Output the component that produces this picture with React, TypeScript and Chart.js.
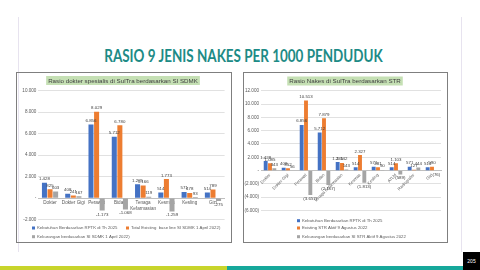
import React, { useEffect, useRef } from 'react';
import { Chart, registerables } from 'chart.js';

Chart.register(...registerables);

// ---------- DATA ----------
const leftTitle = 'Rasio dokter spesialis di SulTra berdasarkan SI SDMK';
const leftCategories: (string | string[])[] = ['Dokter', 'Dokter Gigi', 'Perawat', 'Bidan', ['Tenaga', 'Kefarmasian'], 'Kesmas', 'Kesling', 'Gizi'];
const leftSeriesNames = [
  'Kebutuhan Berdasarkan RPTK di Th 2025',
  'Total Existing  base line SI SDMK 1 April 2022)',
  'Kekurangan berdasarkan SI SDMK 1 April 2022)',
];
const leftKebutuhan = [1428, 408, 6856, 5712, 1285, 514, 571, 514];
const leftExisting = [825, 241, 8029, 6780, 1166, 1773, 478, 789];
const leftKekurangan = [603, 167, -1173, -1068, 119, -1259, 93, -275];
const leftAxisMin = -2000;
const leftAxisMax = 10000;
const leftAxisStep = 2000;

const rightTitle = 'Rasio Nakes di SulTra berdasarkan STR';
const rightCategories = ['Dokter', 'Dokter Gigi', 'Perawat', 'Bidan', 'Tenaga Kefarmasian', 'Kesmas', 'Kesling', 'ATLM', 'Radiografer', 'Gizi'];
const rightSeriesNames = [
  'Kebutuhan Berdasarkan RPTK di Th 2025',
  'Existing STR Aktif 9 Agustus 2022',
  'Kekurangan berdasarkan SI STR Aktif 9 Agustus 2022',
];
const rightKebutuhan = [1428, 408, 6856, 5712, 1285, 514, 571, 514, 571, 514];
const rightExisting = [1085, 352, 10513, 7879, 1142, 2327, 481, 1103, 127, 590];
const rightKekurangan = [343, 56, -3657, -2167, 143, -1813, 90, -589, 444, -76];
const rightAxisMin = -6000;
const rightAxisMax = 12000;
const rightAxisStep = 2000;

// ---------- STYLE ----------
const COLORS = ['#4472c4', '#ed7d31', '#a5a5a5'];
const FONT = '"Liberation Sans", Arial, sans-serif';
const TEXT = '#595959';

const thousands = (v: number) => Math.abs(v).toString().replace(/\B(?=(\d{3})+(?!\d))/g, '.');
const fmtMinus = (v: number) => (v < 0 ? '-' + thousands(v) : thousands(v));
const fmtParen = (v: number) => (v < 0 ? '(' + thousands(v) + ')' : thousands(v));

function valueLabelsPlugin(fmt: (v: number) => string, size: number) {
  return {
    id: 'valueLabels',
    afterDatasetsDraw(chart: any) {
      const ctx = chart.ctx;
      ctx.save();
      ctx.font = `${size}px ${FONT}`;
      ctx.fillStyle = '#404040';
      ctx.textAlign = 'center';
      chart.data.datasets.forEach((ds: any, i: number) => {
        const meta = chart.getDatasetMeta(i);
        meta.data.forEach((el: any, j: number) => {
          const v = ds.data[j] as number;
          const { x, y } = el.getProps(['x', 'y'], true);
          if (v >= 0) {
            ctx.textBaseline = 'bottom';
            ctx.fillText(fmt(v), x, y - 1.5);
          } else {
            ctx.textBaseline = 'top';
            ctx.fillText(fmt(v), x, y + 1.5);
          }
        });
      });
      ctx.restore();
    },
  };
}

interface DecorCfg {
  title: string;
  titleX: number;
  titleY: number;
  titleSize: number;
  legend: { x: number; y: number }[];
  legendSize: number;
}

function decorPlugin(cfg: DecorCfg) {
  return {
    id: 'decor',
    afterDraw(chart: any) {
      const ctx = chart.ctx;
      ctx.save();
      ctx.font = `${cfg.titleSize}px ${FONT}`;
      const w = ctx.measureText(cfg.title).width;
      ctx.fillStyle = '#c5e0b4';
      ctx.fillRect(cfg.titleX - w / 2 - 2, cfg.titleY - 4.5, w + 4, 9);
      ctx.fillStyle = '#404040';
      ctx.textAlign = 'center';
      ctx.textBaseline = 'middle';
      ctx.fillText(cfg.title, cfg.titleX, cfg.titleY + 0.3);
      ctx.font = `${cfg.legendSize}px ${FONT}`;
      ctx.textAlign = 'left';
      cfg.legend.forEach((p, i) => {
        const ds = chart.data.datasets[i];
        ctx.fillStyle = ds.backgroundColor;
        ctx.fillRect(p.x, p.y - 1.5, 3, 3);
        ctx.fillStyle = TEXT;
        ctx.fillText(ds.label, p.x + 5, p.y + 0.2);
      });
      ctx.restore();
    },
  };
}

function makeConfig(opts: {
  categories: any[];
  names: string[];
  series: number[][];
  min: number;
  max: number;
  step: number;
  tickFmt: (v: number) => string;
  labelFmt: (v: number) => string;
  padding: { top: number; right: number; bottom: number; left: number };
  yWidth: number;
  rotation: number;
  xFont: number;
  decor: DecorCfg;
}) {
  return {
    type: 'bar' as const,
    data: {
      labels: opts.categories,
      datasets: opts.series.map((d, i) => ({
        label: opts.names[i],
        data: d,
        backgroundColor: COLORS[i],
        borderWidth: 0,
        categoryPercentage: 0.72,
        barPercentage: 0.9,
      })),
    },
    options: {
      responsive: false,
      animation: false as const,
      layout: { padding: opts.padding },
      plugins: { legend: { display: false }, tooltip: { enabled: false }, title: { display: false } },
      scales: {
        x: {
          position: { y: 0 },
          grid: { display: false, drawTicks: false },
          border: { display: true, color: '#bfbfbf', width: 1 },
          ticks: {
            font: { size: opts.xFont, family: FONT },
            color: TEXT,
            padding: 2,
            autoSkip: false,
            minRotation: opts.rotation,
            maxRotation: opts.rotation,
          },
        },
        y: {
          min: opts.min,
          max: opts.max,
          afterFit: (axis: any) => {
            axis.width = opts.yWidth;
          },
          ticks: {
            stepSize: opts.step,
            callback: (v: any) => opts.tickFmt(Number(v)),
            font: { size: 4.6, family: FONT },
            color: TEXT,
            padding: 2,
          },
          grid: { color: '#d9d9d9', lineWidth: 0.8, drawTicks: false },
          border: { display: false },
        },
      },
    },
    plugins: [valueLabelsPlugin(opts.labelFmt, 4.4), decorPlugin(opts.decor)],
  };
}

function ChartCanvas({ config, left, top, width, height }: any) {
  const ref = useRef<HTMLCanvasElement>(null);
  useEffect(() => {
    const chart = new Chart(ref.current as HTMLCanvasElement, config());
    return () => chart.destroy();
  }, []);
  return (
    <canvas
      ref={ref}
      width={width}
      height={height}
      style={{ position: 'absolute', left, top, width, height }}
    />
  );
}

const leftConfig = () =>
  makeConfig({
    categories: leftCategories,
    names: leftSeriesNames,
    series: [leftKebutuhan, leftExisting, leftKekurangan],
    min: leftAxisMin,
    max: leftAxisMax,
    step: leftAxisStep,
    tickFmt: (v) => (v === 0 ? '-' : fmtMinus(v)),
    labelFmt: fmtMinus,
    padding: { top: 17.7, right: 6.4, bottom: 22.5, left: 0 },
    yWidth: 21.4,
    rotation: 0,
    xFont: 4.6,
    decor: {
      title: leftTitle,
      titleX: 106,
      titleY: 7.5,
      titleSize: 6.2,
      legend: [
        { x: 15, y: 155 },
        { x: 109, y: 155 },
        { x: 15, y: 163.7 },
      ],
      legendSize: 4.3,
    },
  });

const rightConfig = () =>
  makeConfig({
    categories: rightCategories,
    names: rightSeriesNames,
    series: [rightKebutuhan, rightExisting, rightKekurangan],
    min: rightAxisMin,
    max: rightAxisMax,
    step: rightAxisStep,
    tickFmt: (v) => (v === 0 ? '-' : fmtParen(v)),
    labelFmt: fmtParen,
    padding: { top: 17.7, right: 6, bottom: 31.5, left: 0 },
    yWidth: 17,
    rotation: 45,
    xFont: 4.2,
    decor: {
      title: rightTitle,
      titleX: 101,
      titleY: 8,
      titleSize: 6.2,
      legend: [
        { x: 53, y: 147.7 },
        { x: 53, y: 155 },
        { x: 53, y: 163.7 },
      ],
      legendSize: 4.3,
    },
  });

export default function App() {
  return (
    <div
      style={{
        position: 'absolute',
        left: 0,
        top: 0,
        width: 480,
        height: 270,
        background: '#ffffff',
        overflow: 'hidden',
      }}
    >
      <div style={{ position: 'absolute', left: 18, top: 17, width: 1, height: 235, background: '#e7e3ef' }} />
      <div style={{ position: 'absolute', left: 461, top: 17, width: 1, height: 235, background: '#e7e3ef' }} />
      <div
        style={{
          position: 'absolute',
          left: 0,
          top: 47,
          width: 487,
          textAlign: 'center',
          fontFamily: 'Lato, "Open Sans", sans-serif',
          fontWeight: 700,
          fontSize: 16.5,
          lineHeight: '18px',
          color: '#1d8b86',
          whiteSpace: 'nowrap',
          transform: 'scaleX(0.815)',
          transformOrigin: '243.5px 50%',
        }}
      >
        RASIO 9 JENIS NAKES PER 1000 PENDUDUK
      </div>
      <div style={{ position: 'absolute', left: 16, top: 72, width: 214, height: 169, border: '1px solid #7f7f7f' }} />
      <div style={{ position: 'absolute', left: 243, top: 72, width: 203, height: 169, border: '1px solid #7f7f7f' }} />
      <ChartCanvas config={leftConfig} left={17} top={73} width={214} height={169} />
      <ChartCanvas config={rightConfig} left={244} top={73} width={203} height={169} />
      <div style={{ position: 'absolute', left: 0, top: 266, width: 227, height: 4, background: '#c8d52b' }} />
      <div style={{ position: 'absolute', left: 227, top: 266, width: 236, height: 4, background: '#16a89b' }} />
      <div
        style={{
          position: 'absolute',
          left: 463,
          top: 252,
          width: 17,
          height: 18,
          background: '#000000',
          color: '#ffffff',
          fontFamily: FONT,
          fontSize: 5,
          lineHeight: '18px',
          textAlign: 'center',
        }}
      >
        205
      </div>
    </div>
  );
}
